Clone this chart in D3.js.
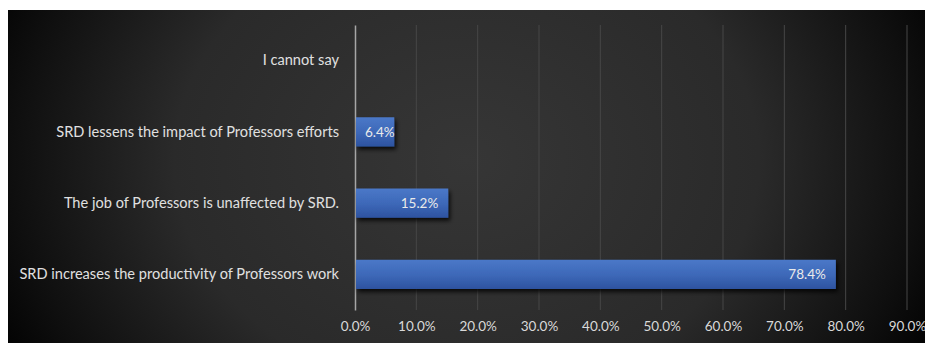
<!DOCTYPE html>
<html>
<head>
<meta charset="utf-8">
<script src="https://cdn.jsdelivr.net/npm/d3@7"></script>
<style>
  body { margin: 0; background: #fff; }
</style>
</head>
<body>
<div id="chart"></div>
<script>
const categories = [
  "I cannot say",
  "SRD lessens the impact of Professors efforts",
  "The job of Professors is unaffected by SRD.",
  "SRD increases the productivity of Professors work"
];
const values = [0, 6.4, 15.2, 78.4];
const ticks = [0, 10, 20, 30, 40, 50, 60, 70, 80, 90];

const width = 925, height = 343;
const margin = { top: 25, right: 18, bottom: 33, left: 355 };

const svg = d3.select("#chart").append("svg")
  .attr("width", width)
  .attr("height", height);

const defs = svg.append("defs");

// background glow
const bg = defs.append("radialGradient")
  .attr("id", "bg")
  .attr("cx", "50%").attr("cy", "45%")
  .attr("r", "58%")
  .attr("gradientTransform", "translate(0.5,0.45) scale(1,2.2) translate(-0.5,-0.45)");
bg.append("stop").attr("offset", "0%").attr("stop-color", "#363636");
bg.append("stop").attr("offset", "55%").attr("stop-color", "#2a2a2a");
bg.append("stop").attr("offset", "85%").attr("stop-color", "#0f0f0f");
bg.append("stop").attr("offset", "100%").attr("stop-color", "#000");

const barGrad = defs.append("linearGradient")
  .attr("id", "bar").attr("x1", 0).attr("y1", 0).attr("x2", 0).attr("y2", 1);
barGrad.append("stop").attr("offset", "0%").attr("stop-color", "#4a78c8");
barGrad.append("stop").attr("offset", "50%").attr("stop-color", "#3e69b9");
barGrad.append("stop").attr("offset", "100%").attr("stop-color", "#2d53a0");

const shadow = defs.append("filter").attr("id", "shadow")
  .attr("x", "-10%").attr("y", "-30%").attr("width", "130%").attr("height", "180%");
shadow.append("feDropShadow")
  .attr("dx", 2).attr("dy", 3).attr("stdDeviation", 2)
  .attr("flood-color", "#000").attr("flood-opacity", 0.8);

svg.append("rect")
  .attr("x", 8).attr("y", 10)
  .attr("width", width - 8).attr("height", height - 10)
  .attr("fill", "url(#bg)");

const x = d3.scaleLinear()
  .domain([0, 90])
  .range([margin.left, width - margin.right]);

const y = d3.scaleBand()
  .domain(categories)
  .range([margin.top, height - margin.bottom])
  .paddingInner(0.59)
  .paddingOuter(0.295);

// Gridlines
svg.append("g")
  .selectAll("line")
  .data(ticks.slice(1))
  .join("line")
  .attr("x1", d => x(d)).attr("x2", d => x(d))
  .attr("y1", margin.top).attr("y2", height - margin.bottom)
  .attr("stroke", "#464646")
  .attr("stroke-width", 1);

// Eixo X (labels only)
const xAxis = svg.append("g")
  .attr("transform", `translate(0,${height - margin.bottom})`)
  .call(d3.axisBottom(x).tickValues(ticks).tickFormat(d => d.toFixed(1) + "%").tickSize(0).tickPadding(11));
xAxis.select(".domain").remove();
xAxis.selectAll("text")
  .style("font-family", "Lato, 'Open Sans', sans-serif")
  .style("font-size", "13.5px")
  .attr("fill", "#d9d9d9");

// Eixo Y
const yAxis = svg.append("g")
  .attr("transform", `translate(${margin.left},0)`)
  .call(d3.axisLeft(y).tickSize(0).tickPadding(16));
yAxis.select(".domain")
  .attr("stroke", "#a6a6a6")
  .attr("stroke-width", 1.5);
yAxis.selectAll("text")
  .style("font-family", "Lato, 'Open Sans', sans-serif")
  .style("font-size", "14.6px")
  .attr("fill", "#e0e0e0");

// Barras
const data = categories.map((c, i) => ({ name: c, value: values[i] }));

svg.selectAll(".bar")
  .data(data.filter(d => d.value > 0))
  .join("rect")
  .attr("class", "bar")
  .attr("x", x(0) + 1)
  .attr("y", d => y(d.name))
  .attr("width", d => x(d.value) - x(0) - 1)
  .attr("height", y.bandwidth())
  .attr("fill", "url(#bar)")
  .attr("filter", "url(#shadow)");

// Rótulos (short bars: label starts just after the axis)
const short = d => x(d.value) - x(0) < 50;
svg.selectAll(".lbl")
  .data(data.filter(d => d.value > 0))
  .join("text")
  .attr("class", "lbl")
  .attr("x", d => short(d) ? x(0) + 10 : x(d.value) - 10)
  .attr("y", d => y(d.name) + y.bandwidth() / 2)
  .attr("dy", "0.35em")
  .attr("text-anchor", d => short(d) ? "start" : "end")
  .style("font-family", "Lato, 'Open Sans', sans-serif")
  .style("font-size", "13.5px")
  .attr("fill", "#eaeaea")
  .text(d => d.value.toFixed(1) + "%");
</script>
</body>
</html>
